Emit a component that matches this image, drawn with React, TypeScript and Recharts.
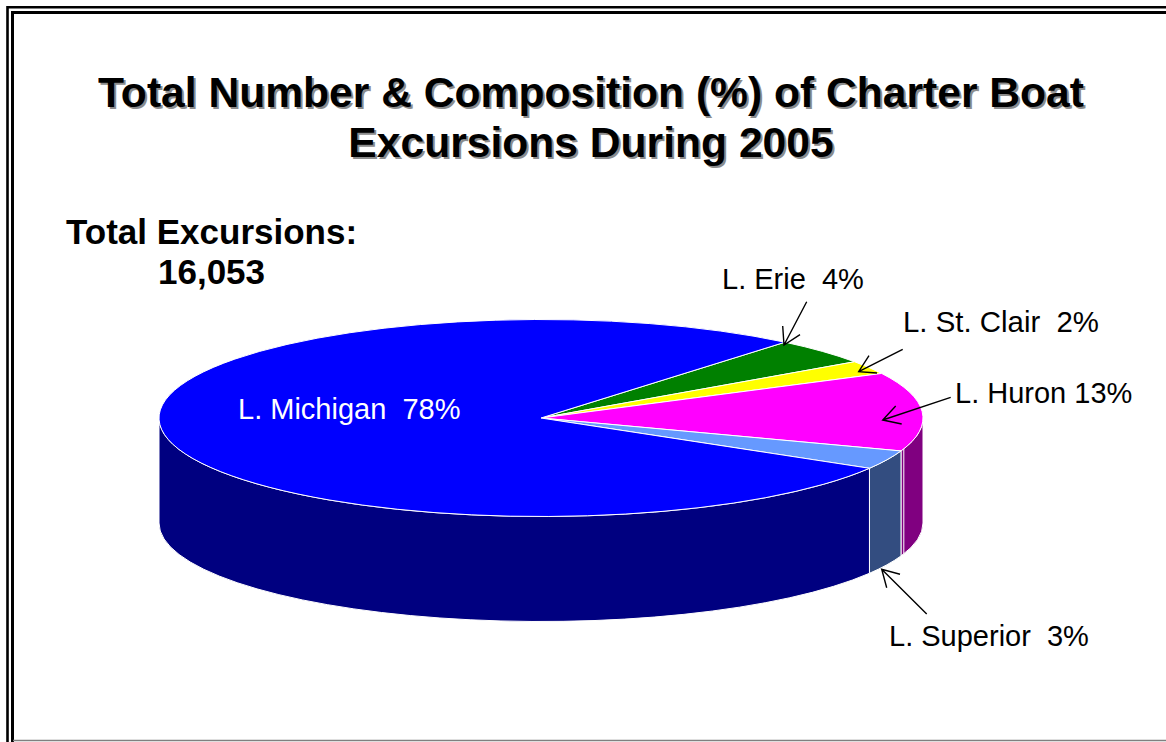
import { Pie, PieChart } from "recharts";

const lakes = ["L. Erie", "L. St. Clair", "L. Huron", "L. Superior", "L. Michigan"];
const shares = [4.3, 2.2, 12.9, 3.1, 77.5];
const labelGaps = ["  ", "  ", " ", "  ", "  "];
const topColors = ["#008000", "#ffff00", "#ff00ff", "#6699ff", "#0000ff"];
const wallColors = ["#004000", "#808000", "#800080", "#334d80", "#000080"];
const titleLines = ["Total Number & Composition (%) of Charter Boat", "Excursions During 2005"];
const totalLines = ["Total Excursions:", "16,053"];

const data = lakes.map((name, i) => ({
  name,
  value: shares[i],
  fill: topColors[i],
  wall: wallColors[i],
}));

// where each callout sits, same order as lakes
const callouts = [
  { x: 722, y: 289, size: 29, fill: "#000000", arrow: "M806.7 301.7 L784 345 M782.7 326 L784 345 L800 334.7" },
  { x: 903, y: 332, size: 29.4, fill: "#000000", arrow: "M902.7 349.3 L858.7 371.7 M869 355.7 L858.7 371.7 L877 373" },
  { x: 955, y: 403, size: 29, fill: "#000000", arrow: "M950.7 397.3 L882.7 420 M895.7 406 L882.7 420 L901.7 424" },
  { x: 889, y: 646, size: 29, fill: "#000000", arrow: "M926.7 614 L881.7 569.3 M900 574.3 L881.7 569.3 L886.7 587.7" },
  { x: 238, y: 419, size: 29, fill: "#ffffff", arrow: "" },
];

const TILT = 98.5 / 382;
const DEPTH = 105;
const FONT = "'Liberation Sans', Arial, sans-serif";

function LakeSlice(props: any) {
  const { cx, cy, outerRadius: rx, startAngle, endAngle, fill, payload } = props;
  const ry = rx * TILT;
  const at = (deg: number, dy = 0) => {
    const a = (deg * Math.PI) / 180;
    return `${cx + rx * Math.cos(a)} ${cy - ry * Math.sin(a) + dy}`;
  };
  const large = startAngle - endAngle > 180 ? 1 : 0;
  const top = `M${cx} ${cy} L${at(startAngle)} A${rx} ${ry} 0 ${large} 1 ${at(endAngle)} Z`;

  // only the part of the rim facing the viewer gets a wall
  const from = Math.min(startAngle, 0);
  const to = Math.max(endAngle, -180);
  const wall =
    from > to
      ? `M${at(from)} A${rx} ${ry} 0 0 1 ${at(to)} L${at(to, DEPTH)} A${rx} ${ry} 0 0 0 ${at(from, DEPTH)} Z`
      : null;
  // the source has a hairline seam just before Huron meets Superior
  const seam = payload.name === "L. Huron" ? `M${at(endAngle + 1.3)} L${at(endAngle + 1.3, DEPTH)}` : null;

  return (
    <g>
      {wall && <path d={wall} fill={payload.wall} stroke="#ffffff" strokeWidth={1} strokeLinejoin="round" />}
      {seam && <path d={seam} stroke="#ffffff" strokeWidth={1} fill="none" />}
      <path d={top} fill={fill} stroke="#ffffff" strokeWidth={1} strokeLinejoin="round" />
    </g>
  );
}

function Callout(props: any) {
  const { index } = props;
  const spot = callouts[index];
  return (
    <g>
      <text x={spot.x} y={spot.y} fontFamily={FONT} fontSize={spot.size} fill={spot.fill} style={{ whiteSpace: "pre" }}>
        {`${lakes[index]}${labelGaps[index]}${Math.round(shares[index])}%`}
      </text>
      {spot.arrow && <path d={spot.arrow} fill="none" stroke="#000000" strokeWidth={1.4} />}
    </g>
  );
}

export default function App() {
  return (
    <div style={{ position: "absolute", left: 0, top: 0, width: 1166, height: 742, overflow: "hidden", background: "#fff" }}>
      <PieChart width={1166} height={742} margin={{ top: 0, right: 0, bottom: 0, left: 0 }}>
        {/* double frame, open on the right like the source slide */}
        <path d="M7.5 742 V7.2 H1166" fill="none" stroke="#000" strokeWidth={2.6} />
        <path d="M12.5 742 V12.5 H1166" fill="none" stroke="#000" strokeWidth={3} />
        <path d="M13 740.5 H1166" fill="none" stroke="#808080" strokeWidth={1.5} />

        <Pie
          data={data}
          dataKey="value"
          nameKey="name"
          cx={541}
          cy={418}
          innerRadius={0}
          outerRadius={382}
          startAngle={50.3}
          endAngle={-309.7}
          stroke="none"
          shape={LakeSlice}
          label={Callout}
          labelLine={false}
          isAnimationActive={false}
        />

        {/* opacity just under 1 stops the colour fringes on the drop shadow */}
        <g opacity={0.999}>
          {titleLines.map((line, i) => (
            <g key={line} fontFamily={FONT} fontWeight="bold" fontSize={42.6} textAnchor="middle">
              <text x={593} y={109 + i * 50} fill="#8c8c8c">{line}</text>
              <text x={591} y={107 + i * 50} fill="#000000">{line}</text>
            </g>
          ))}
        </g>

        <text x={66} y={244} fontFamily={FONT} fontWeight="bold" fontSize={35}>{totalLines[0]}</text>
        <text x={158} y={284} fontFamily={FONT} fontWeight="bold" fontSize={35}>{totalLines[1]}</text>
      </PieChart>
    </div>
  );
}
